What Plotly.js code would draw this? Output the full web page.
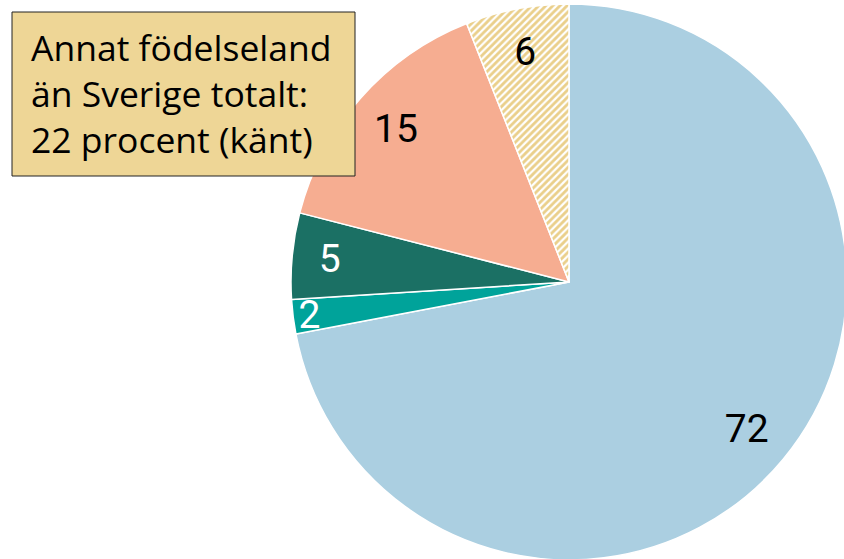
<!DOCTYPE html>
<html>
<head>
<meta charset="utf-8">
<script src="https://cdn.plot.ly/plotly-3.0.1.min.js"></script>
<style>
html,body{margin:0;padding:0;overflow:hidden;background:#fff;width:844px;height:559px;}
#chart{position:absolute;left:0;top:0;}
</style>
</head>
<body>
<div id="chart"></div>
<script>
const categories = ["Sverige", "Norden", "Övriga Europa", "Utanför Europa", "Okänt"];
const values = [72, 2, 5, 15, 6];
const sliceColors = ["#ABCFE1", "#00A39A", "#1B7064", "#F6AD91", "#FFFFFF"];
const textColors = ["#000000", "#FFFFFF", "#FFFFFF", "#000000", "#000000"];
const boxText = "Annat födelseland<br>än Sverige totalt:<br>22 procent (känt)";

const W = 860, H = 570;
const font = "Roboto, 'Liberation Sans', sans-serif";
const boxFont = "'Open Sans', Roboto, sans-serif";
const domain = {x: [291 / W, 847 / W], y: [10 / H, 566 / H]};
const px = v => v / W;
const py = v => 1 - v / H;

// Slices
const slices = {
  type: "pie",
  labels: categories,
  values: values,
  sort: false,
  direction: "clockwise",
  rotation: 0,
  textinfo: "none",
  hoverinfo: "label+value",
  marker: {
    colors: sliceColors,
    line: {color: "#FFFFFF", width: 1.5},
    pattern: {
      shape: ["", "", "", "", "/"],
      fgcolor: "#EACF8A",
      bgcolor: "#FFFFFF",
      size: 5,
      solidity: 0.55
    }
  },
  domain: domain
};

// Same values as a transparent ring, used only to place the value labels near the rim
const labelsRing = {
  type: "pie",
  labels: categories,
  values: values,
  sort: false,
  direction: "clockwise",
  rotation: 0,
  hole: 0.66,
  texttemplate: "%{value}",
  textposition: "inside",
  insidetextorientation: "horizontal",
  textfont: {family: font, size: 39, color: textColors},
  hoverinfo: "skip",
  marker: {colors: ["rgba(0,0,0,0)", "rgba(0,0,0,0)", "rgba(0,0,0,0)", "rgba(0,0,0,0)", "rgba(0,0,0,0)"], line: {width: 0}},
  domain: domain
};

const layout = {
  width: W,
  height: H,
  margin: {l: 0, r: 0, t: 0, b: 0},
  paper_bgcolor: "#FFFFFF",
  showlegend: false,
  uniformtext: {mode: "show", minsize: 39},
  shapes: [{
    type: "rect", xref: "paper", yref: "paper",
    x0: px(12), x1: px(355), y0: py(176), y1: py(12),
    fillcolor: "#EED696",
    line: {color: "#222222", width: 1},
    layer: "above"
  }],
  annotations: [{
    xref: "paper", yref: "paper",
    x: px(30), y: py(93),
    xanchor: "left", yanchor: "middle",
    text: boxText,
    showarrow: false,
    align: "left",
    font: {family: boxFont, size: 35.5, color: "#000000"},
    borderpad: 0
  }]
};

Plotly.newPlot("chart", [slices, labelsRing], layout, {displayModeBar: false, staticPlot: true});
</script>
</body>
</html>
